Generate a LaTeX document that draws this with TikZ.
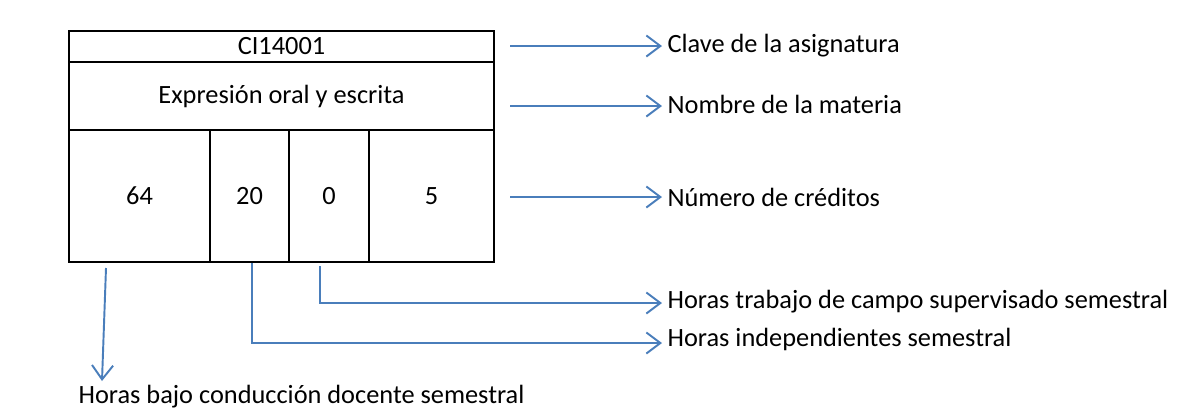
\documentclass[tikz,border=0pt]{standalone}
\usepackage{fontspec}
\setmainfont{Carlito}
\usetikzlibrary{arrows.meta}

\begin{document}
\begin{tikzpicture}[x=0.02cm, y=-0.02cm, >={Straight Barb[length=8pt, width=12pt]},
    cell/.style={draw, line width=1.6pt, inner sep=0pt, font=\fontsize{15}{18}\selectfont},
    lbl/.style={anchor=west, inner sep=3pt, font=\fontsize{15}{18}\selectfont},
    link/.style={draw=linkblue, line width=1.1pt}]

    \definecolor{linkblue}{HTML}{4A7EBB}
    \useasboundingbox (0,0) rectangle (1177,410);

        % Card
        \node[cell, minimum width=8.5cm, minimum height=0.62cm] (clave) at (281.5,46.5) {CI14001};
        \node[cell, minimum width=8.5cm, minimum height=1.36cm] (nombre) at (281.5,96) {Expresión oral y escrita};
        \node[cell, minimum width=2.82cm, minimum height=2.64cm] (hbc) at (139.5,196) {64};
        \node[cell, minimum width=1.58cm, minimum height=2.64cm] (hi) at (249.5,196) {20};
        \node[cell, minimum width=1.60cm, minimum height=2.64cm] (htc) at (329,196) {0};
        \node[cell, minimum width=2.50cm, minimum height=2.64cm] (cred) at (431.5,196) {5};

        % Labels
        \node[lbl] (lclave) at (662,46) {Clave de la asignatura};
        \node[lbl] (lnombre) at (662,104) {Nombre de la materia};
        \node[lbl] (lcred) at (662,197) {Número de créditos};
        \node[lbl] (lhtc) at (662,302) {Horas trabajo de campo supervisado semestral};
        \node[lbl] (lhi) at (662,339) {Horas independientes semestral};
        \node[lbl, anchor=base west] (lhbc) at (73,403) {Horas bajo conducción docente semestral};

        % Arrow starts
        \coordinate (sclave) at (510,46);
        \coordinate (snombre) at (510,106);
        \coordinate (scred) at (510,197);
        \coordinate (shbc) at (106,268);
        \coordinate (ehbc) at (102,381);
        \coordinate (shi) at (252,263);
        \coordinate (shtc) at (320,266);

        % Arrows
        \draw[link, ->] (sclave) -- (lclave.west);
        \draw[link, ->] (snombre) -- (snombre -| lnombre.west);
        \draw[link, ->] (scred) -- (lcred.west);
        \draw[link, ->] (shtc) |- (shtc |- 0,303) -- (lhtc.west |- 0,303);
        \draw[link, ->] (shi) |- (shi |- 0,343) -- (lhi.west |- 0,343);
        \draw[link, ->] (shbc) -- (ehbc);

\end{tikzpicture}
\end{document}
